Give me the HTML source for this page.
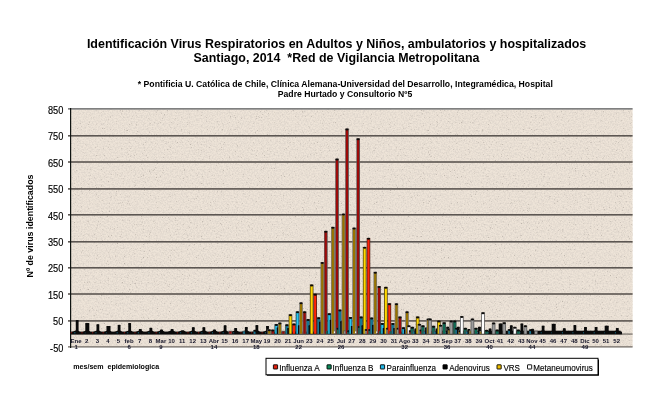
<!DOCTYPE html>
<html><head><meta charset="utf-8"><title>Identificación Virus Respiratorios</title>
<style>
html,body{margin:0;padding:0;background:#fff;}
body{width:654px;height:401px;overflow:hidden;}
svg{display:block;}
text{font-family:"Liberation Sans",sans-serif;}
.t1{font-weight:bold;font-size:12.4px;fill:#000;}
.t2{font-weight:bold;font-size:8.65px;fill:#000;}
.yl{font-size:10.1px;fill:#000;text-anchor:end;stroke:#000;stroke-width:0.15px;}
.xl{font-size:6.0px;font-weight:bold;fill:#141428;text-anchor:middle;}
.lg{font-size:9.8px;fill:#000;stroke:#000;stroke-width:0.15px;}
.ax{font-weight:bold;font-size:7.4px;fill:#000;}
</style></head><body>
<svg width="654" height="401" viewBox="0 0 654 401">
<defs>
<filter id="nz" x="0" y="0" width="100%" height="100%">
<feTurbulence type="fractalNoise" baseFrequency="0.65" numOctaves="2" seed="7" result="n"/>
<feColorMatrix type="matrix" values="0 0 0 0 0.70  0 0 0 0 0.64  0 0 0 0 0.58  2.0 0 0 0 -0.72"/>
<feComposite operator="in" in2="SourceGraphic"/>
</filter>
<filter id="sp" x="0" y="0" width="100%" height="100%">
<feTurbulence type="fractalNoise" baseFrequency="0.85" numOctaves="2" seed="3" result="n"/>
<feColorMatrix type="matrix" values="0 0 0 0 0.5  0 0 0 0 0.45  0 0 0 0 0.4  4.5 0 0 0 -3.0"/>
<feComposite operator="in" in2="SourceGraphic"/>
</filter>
</defs>
<rect width="654" height="401" fill="#fff"/>

<text class="t1" x="336.6" y="48.3" text-anchor="middle" textLength="499.4" lengthAdjust="spacingAndGlyphs">Identificación Virus Respiratorios en Adultos y Niños, ambulatorios y hospitalizados</text>
<text class="t1" x="336.5" y="61.8" text-anchor="middle" textLength="286" lengthAdjust="spacingAndGlyphs" xml:space="preserve">Santiago, 2014  *Red de Vigilancia Metropolitana</text>
<text class="t2" x="345.3" y="86.5" text-anchor="middle" textLength="415" lengthAdjust="spacingAndGlyphs">* Pontificia U. Católica de Chile, Clínica Alemana-Universidad del Desarrollo, Integramédica, Hospital</text>
<text class="t2" x="345" y="96.5" text-anchor="middle" textLength="134.5" lengthAdjust="spacingAndGlyphs">Padre Hurtado y Consultorio Nº5</text>
<rect x="71" y="109.5" width="561.6" height="237.5" fill="#eee4d8"/>
<rect x="71" y="109.5" width="561.6" height="237.5" fill="#eee4d8" filter="url(#nz)"/>
<rect x="71" y="109.5" width="561.6" height="237.5" fill="#eee4d8" filter="url(#sp)"/>
<rect x="68" y="108.0" width="564.6" height="1.7" fill="#808080"/>
<text class="yl" x="63.3" y="114" textLength="15.4" lengthAdjust="spacingAndGlyphs">850</text>
<rect x="68" y="135.0" width="564.6" height="1.6" fill="#5c5652"/>
<text class="yl" x="63.3" y="140" textLength="15.4" lengthAdjust="spacingAndGlyphs">750</text>
<rect x="68" y="161.2" width="564.6" height="1.6" fill="#5c5652"/>
<text class="yl" x="63.3" y="167" textLength="15.4" lengthAdjust="spacingAndGlyphs">650</text>
<rect x="68" y="188.1" width="564.6" height="1.6" fill="#5c5652"/>
<text class="yl" x="63.3" y="193" textLength="15.4" lengthAdjust="spacingAndGlyphs">550</text>
<rect x="68" y="214.0" width="564.6" height="1.6" fill="#5c5652"/>
<text class="yl" x="63.3" y="220" textLength="15.4" lengthAdjust="spacingAndGlyphs">450</text>
<rect x="68" y="241.0" width="564.6" height="1.6" fill="#5c5652"/>
<text class="yl" x="63.3" y="246" textLength="15.4" lengthAdjust="spacingAndGlyphs">350</text>
<rect x="68" y="267.0" width="564.6" height="1.6" fill="#5c5652"/>
<text class="yl" x="63.3" y="272" textLength="15.4" lengthAdjust="spacingAndGlyphs">250</text>
<rect x="68" y="293.2" width="564.6" height="1.6" fill="#5c5652"/>
<text class="yl" x="63.3" y="299" textLength="15.4" lengthAdjust="spacingAndGlyphs">150</text>
<rect x="68" y="320.1" width="564.6" height="1.6" fill="#5c5652"/>
<text class="yl" x="63.3" y="325" textLength="10.2" lengthAdjust="spacingAndGlyphs">50</text>
<rect x="68" y="346.1" width="564.6" height="1.5" fill="#847e78"/>
<text class="yl" x="63.3" y="352" textLength="13.2" lengthAdjust="spacingAndGlyphs">-50</text>
<rect x="70" y="108" width="1.2" height="240" fill="#101412"/>
<rect x="71" y="333.6" width="561.6" height="0.9" fill="#4a4642"/>
<rect x="71" y="331.6" width="551" height="2.8" fill="#0a0a0a"/>
<rect x="409.7" y="330.7" width="211.0" height="3" fill="#0a0a0a"/>
<polygon points="71.9,331.9 75.5,330.4 77.9,330.4 80.1,331.9" fill="#0a0a0a"/>
<polygon points="82.5,331.9 86.1,330.4 88.5,330.4 90.7,331.9" fill="#0a0a0a"/>
<polygon points="93.1,331.9 96.7,330.4 99.1,330.4 101.3,331.9" fill="#0a0a0a"/>
<polygon points="103.7,331.9 107.3,330.4 109.7,330.4 111.9,331.9" fill="#0a0a0a"/>
<polygon points="114.3,331.9 117.9,330.4 120.3,330.4 122.5,331.9" fill="#0a0a0a"/>
<polygon points="124.9,331.9 128.5,330.4 130.9,330.4 133.1,331.9" fill="#0a0a0a"/>
<polygon points="135.5,331.9 139.1,330.4 141.5,330.4 143.7,331.9" fill="#0a0a0a"/>
<polygon points="146.1,331.9 149.7,330.4 152.1,330.4 154.3,331.9" fill="#0a0a0a"/>
<polygon points="156.7,331.9 160.3,330.4 162.7,330.4 164.9,331.9" fill="#0a0a0a"/>
<polygon points="167.3,331.9 170.9,330.4 173.3,330.4 175.5,331.9" fill="#0a0a0a"/>
<polygon points="177.9,331.9 181.5,330.4 183.9,330.4 186.1,331.9" fill="#0a0a0a"/>
<polygon points="188.5,331.9 192.1,330.4 194.5,330.4 196.7,331.9" fill="#0a0a0a"/>
<polygon points="199.1,331.9 202.7,330.4 205.1,330.4 207.3,331.9" fill="#0a0a0a"/>
<polygon points="209.7,331.9 213.3,330.4 215.7,330.4 217.9,331.9" fill="#0a0a0a"/>
<polygon points="220.3,331.9 223.9,330.4 226.3,330.4 228.5,331.9" fill="#0a0a0a"/>
<polygon points="230.9,331.9 234.5,330.4 236.9,330.4 239.1,331.9" fill="#0a0a0a"/>
<polygon points="241.5,331.9 245.1,330.4 247.5,330.4 249.7,331.9" fill="#0a0a0a"/>
<polygon points="252.1,331.9 255.7,330.4 258.1,330.4 260.3,331.9" fill="#0a0a0a"/>
<polygon points="262.7,331.9 266.3,330.4 268.7,330.4 270.9,331.9" fill="#0a0a0a"/>
<polygon points="527.7,331.9 531.3,330.4 533.7,330.4 535.9,331.9" fill="#0a0a0a"/>
<polygon points="538.3,331.9 541.9,330.4 544.3,330.4 546.5,331.9" fill="#0a0a0a"/>
<polygon points="548.9,331.9 552.5,330.4 554.9,330.4 557.1,331.9" fill="#0a0a0a"/>
<polygon points="559.5,331.9 563.1,330.4 565.5,330.4 567.7,331.9" fill="#0a0a0a"/>
<polygon points="570.1,331.9 573.7,330.4 576.1,330.4 578.3,331.9" fill="#0a0a0a"/>
<polygon points="580.7,331.9 584.3,330.4 586.7,330.4 588.9,331.9" fill="#0a0a0a"/>
<polygon points="591.3,331.9 594.9,330.4 597.3,330.4 599.5,331.9" fill="#0a0a0a"/>
<polygon points="601.9,331.9 605.5,330.4 607.9,330.4 610.1,331.9" fill="#0a0a0a"/>
<polygon points="612.5,331.9 616.1,330.4 618.5,330.4 620.7,331.9" fill="#0a0a0a"/>
<rect x="70.78" y="332.3" width="1.2" height="1.0" fill="#c01810" opacity="0.75"/>

<rect x="74.31" y="332.3" width="1.2" height="1.0" fill="#18a0c8" opacity="0.75"/>
<rect x="75.78" y="320.18" width="2.80" height="13.72" fill="#0a0a0a"/><ellipse cx="77.19" cy="321.08" rx="1.20" ry="1.0" fill="#0a0a0a"/>


<rect x="81.38" y="332.3" width="1.2" height="1.0" fill="#c01810" opacity="0.75"/>

<rect x="84.92" y="332.3" width="1.2" height="1.0" fill="#18a0c8" opacity="0.75"/>
<rect x="85.29" y="323.09" width="4.00" height="10.81" fill="#0a0a0a"/><ellipse cx="87.29" cy="323.99" rx="1.80" ry="1.0" fill="#0a0a0a"/>


<rect x="91.98" y="332.3" width="1.2" height="1.0" fill="#c01810" opacity="0.75"/>

<rect x="95.52" y="332.3" width="1.2" height="1.0" fill="#18a0c8" opacity="0.75"/>
<rect x="96.48" y="324.41" width="2.80" height="9.49" fill="#0a0a0a"/><ellipse cx="97.89" cy="325.31" rx="1.20" ry="1.0" fill="#0a0a0a"/>


<rect x="102.58" y="332.3" width="1.2" height="1.0" fill="#c01810" opacity="0.75"/>

<rect x="106.11" y="332.3" width="1.2" height="1.0" fill="#18a0c8" opacity="0.75"/>
<rect x="106.48" y="326.00" width="4.00" height="7.90" fill="#0a0a0a"/><ellipse cx="108.48" cy="326.90" rx="1.80" ry="1.0" fill="#0a0a0a"/>




<rect x="116.71" y="332.3" width="1.2" height="1.0" fill="#18a0c8" opacity="0.75"/>
<rect x="117.68" y="324.94" width="2.80" height="8.96" fill="#0a0a0a"/><ellipse cx="119.08" cy="325.84" rx="1.20" ry="1.0" fill="#0a0a0a"/>


<rect x="123.78" y="332.3" width="1.2" height="1.0" fill="#c01810" opacity="0.75"/>

<rect x="127.32" y="332.3" width="1.2" height="1.0" fill="#18a0c8" opacity="0.75"/>
<rect x="128.28" y="323.09" width="2.80" height="10.81" fill="#0a0a0a"/><ellipse cx="129.69" cy="323.99" rx="1.20" ry="1.0" fill="#0a0a0a"/>


<rect x="134.37" y="332.3" width="1.2" height="1.0" fill="#c01810" opacity="0.75"/>

<rect x="137.91" y="332.3" width="1.2" height="1.0" fill="#18a0c8" opacity="0.75"/>
<rect x="138.88" y="329.17" width="2.80" height="4.73" fill="#0a0a0a"/><ellipse cx="140.28" cy="330.07" rx="1.20" ry="1.0" fill="#0a0a0a"/>




<rect x="148.52" y="332.3" width="1.2" height="1.0" fill="#18a0c8" opacity="0.75"/>
<rect x="149.48" y="327.85" width="2.80" height="6.05" fill="#0a0a0a"/><ellipse cx="150.88" cy="328.75" rx="1.20" ry="1.0" fill="#0a0a0a"/>


<rect x="155.57" y="332.3" width="1.2" height="1.0" fill="#c01810" opacity="0.75"/>

<rect x="159.12" y="332.3" width="1.2" height="1.0" fill="#18a0c8" opacity="0.75"/>
<rect x="160.08" y="329.70" width="2.80" height="4.20" fill="#0a0a0a"/><ellipse cx="161.48" cy="330.60" rx="1.20" ry="1.0" fill="#0a0a0a"/>





<rect x="170.68" y="329.17" width="2.80" height="4.73" fill="#0a0a0a"/><ellipse cx="172.08" cy="330.07" rx="1.20" ry="1.0" fill="#0a0a0a"/>


<rect x="176.78" y="332.3" width="1.2" height="1.0" fill="#c01810" opacity="0.75"/>

<rect x="180.32" y="332.3" width="1.2" height="1.0" fill="#18a0c8" opacity="0.75"/>
<rect x="181.28" y="330.49" width="2.80" height="3.41" fill="#0a0a0a"/>


<rect x="187.37" y="332.3" width="1.2" height="1.0" fill="#c01810" opacity="0.75"/>

<rect x="190.91" y="332.3" width="1.2" height="1.0" fill="#18a0c8" opacity="0.75"/>
<rect x="191.88" y="327.32" width="2.80" height="6.58" fill="#0a0a0a"/><ellipse cx="193.28" cy="328.22" rx="1.20" ry="1.0" fill="#0a0a0a"/>


<rect x="197.97" y="332.3" width="1.2" height="1.0" fill="#c01810" opacity="0.75"/>

<rect x="201.52" y="332.3" width="1.2" height="1.0" fill="#18a0c8" opacity="0.75"/>
<rect x="202.48" y="327.32" width="2.80" height="6.58" fill="#0a0a0a"/><ellipse cx="203.88" cy="328.22" rx="1.20" ry="1.0" fill="#0a0a0a"/>


<rect x="208.57" y="332.3" width="1.2" height="1.0" fill="#c01810" opacity="0.75"/>

<rect x="212.12" y="332.3" width="1.2" height="1.0" fill="#18a0c8" opacity="0.75"/>
<rect x="213.08" y="329.70" width="2.80" height="4.20" fill="#0a0a0a"/><ellipse cx="214.48" cy="330.60" rx="1.20" ry="1.0" fill="#0a0a0a"/>


<rect x="219.17" y="332.3" width="1.2" height="1.0" fill="#c01810" opacity="0.75"/>

<rect x="222.72" y="332.3" width="1.2" height="1.0" fill="#18a0c8" opacity="0.75"/>
<rect x="223.68" y="325.47" width="2.80" height="8.43" fill="#0a0a0a"/><ellipse cx="225.08" cy="326.37" rx="1.20" ry="1.0" fill="#0a0a0a"/>


<rect x="228.57" y="330.76" width="3.60" height="3.14" fill="#5e5454"/><rect x="229.32" y="331.56" width="2.10" height="2.14" fill="#9c0a08"/>

<rect x="233.31" y="332.3" width="1.2" height="1.0" fill="#18a0c8" opacity="0.75"/>
<rect x="234.28" y="328.11" width="2.80" height="5.79" fill="#0a0a0a"/><ellipse cx="235.68" cy="329.01" rx="1.20" ry="1.0" fill="#0a0a0a"/>


<rect x="240.38" y="332.3" width="1.2" height="1.0" fill="#c01810" opacity="0.75"/>

<rect x="242.72" y="330.76" width="3.60" height="3.14" fill="#3c5058"/><rect x="243.47" y="331.56" width="2.10" height="2.14" fill="#147896"/>
<rect x="244.88" y="327.05" width="2.80" height="6.85" fill="#0a0a0a"/><ellipse cx="246.28" cy="327.95" rx="1.20" ry="1.0" fill="#0a0a0a"/>


<rect x="250.97" y="332.3" width="1.2" height="1.0" fill="#c01810" opacity="0.75"/>

<rect x="253.31" y="329.96" width="3.60" height="3.94" fill="#3c5058"/><rect x="254.06" y="330.76" width="2.10" height="2.94" fill="#147896"/><ellipse cx="255.12" cy="330.86" rx="1.60" ry="1.0" fill="#0c0a08"/>
<rect x="255.48" y="325.20" width="2.80" height="8.70" fill="#0a0a0a"/><ellipse cx="256.88" cy="326.10" rx="1.20" ry="1.0" fill="#0a0a0a"/>


<rect x="261.57" y="332.3" width="1.2" height="1.0" fill="#c01810" opacity="0.75"/>

<rect x="265.12" y="332.3" width="1.2" height="1.0" fill="#18a0c8" opacity="0.75"/>
<rect x="266.09" y="326.00" width="2.80" height="7.90" fill="#0a0a0a"/><ellipse cx="267.49" cy="326.90" rx="1.20" ry="1.0" fill="#0a0a0a"/>
<rect x="267.45" y="329.43" width="3.60" height="4.47" fill="#7c7870"/><rect x="268.20" y="330.23" width="2.10" height="3.47" fill="#987400"/><ellipse cx="269.25" cy="330.33" rx="1.60" ry="1.0" fill="#0c0a08"/>

<rect x="270.97" y="329.70" width="3.60" height="4.20" fill="#5e5454"/><rect x="271.72" y="330.50" width="2.10" height="3.20" fill="#9c0a08"/><ellipse cx="272.77" cy="330.60" rx="1.60" ry="1.0" fill="#0c0a08"/>

<rect x="274.51" y="324.15" width="3.60" height="9.75" fill="#103848"/><rect x="275.26" y="324.95" width="2.10" height="8.75" fill="#28c8f4"/><ellipse cx="276.31" cy="325.05" rx="1.60" ry="1.0" fill="#0c0a08"/>
<rect x="276.69" y="327.58" width="2.80" height="6.32" fill="#0a0a0a"/><ellipse cx="278.08" cy="328.48" rx="1.20" ry="1.0" fill="#0a0a0a"/>
<rect x="278.05" y="322.56" width="3.60" height="11.34" fill="#7c7870"/><rect x="278.80" y="323.36" width="2.10" height="10.34" fill="#987400"/><ellipse cx="279.85" cy="323.46" rx="1.60" ry="1.0" fill="#0c0a08"/>

<rect x="281.57" y="330.76" width="3.60" height="3.14" fill="#5e5454"/><rect x="282.32" y="331.56" width="2.10" height="2.14" fill="#9c0a08"/>

<rect x="285.11" y="324.41" width="3.60" height="9.49" fill="#3c5058"/><rect x="285.86" y="325.21" width="2.10" height="8.49" fill="#147896"/><ellipse cx="286.91" cy="325.31" rx="1.60" ry="1.0" fill="#0c0a08"/>
<rect x="287.28" y="328.11" width="2.80" height="5.79" fill="#0a0a0a"/><ellipse cx="288.68" cy="329.01" rx="1.20" ry="1.0" fill="#0a0a0a"/>
<rect x="288.65" y="314.36" width="3.60" height="19.54" fill="#4a3c10"/><rect x="289.40" y="315.16" width="2.10" height="18.54" fill="#ffd800"/><ellipse cx="290.45" cy="315.26" rx="1.60" ry="1.0" fill="#0c0a08"/>

<rect x="292.17" y="323.62" width="3.60" height="10.28" fill="#4a2018"/><rect x="292.92" y="324.42" width="2.10" height="9.28" fill="#ff2408"/><ellipse cx="293.97" cy="324.52" rx="1.60" ry="1.0" fill="#0c0a08"/>

<rect x="295.71" y="311.45" width="3.60" height="22.45" fill="#103848"/><rect x="296.46" y="312.25" width="2.10" height="21.45" fill="#28c8f4"/><ellipse cx="297.51" cy="312.35" rx="1.60" ry="1.0" fill="#0c0a08"/>
<rect x="297.88" y="325.47" width="2.80" height="8.43" fill="#0a0a0a"/><ellipse cx="299.28" cy="326.37" rx="1.20" ry="1.0" fill="#0a0a0a"/>
<rect x="299.25" y="302.47" width="3.60" height="31.43" fill="#7c7870"/><rect x="300.00" y="303.27" width="2.10" height="30.43" fill="#987400"/><ellipse cx="301.05" cy="303.37" rx="1.60" ry="1.0" fill="#0c0a08"/>

<rect x="302.88" y="311.45" width="3.60" height="22.45" fill="#5e5454"/><rect x="303.52" y="312.25" width="2.10" height="21.45" fill="#9c0a08"/><ellipse cx="304.57" cy="312.35" rx="1.60" ry="1.0" fill="#0c0a08"/>

<rect x="306.31" y="319.12" width="3.60" height="14.78" fill="#3c5058"/><rect x="307.06" y="319.92" width="2.10" height="13.78" fill="#147896"/><ellipse cx="308.12" cy="320.02" rx="1.60" ry="1.0" fill="#0c0a08"/>
<rect x="308.49" y="325.47" width="2.80" height="8.43" fill="#0a0a0a"/><ellipse cx="309.88" cy="326.37" rx="1.20" ry="1.0" fill="#0a0a0a"/>
<rect x="309.85" y="284.49" width="3.60" height="49.41" fill="#4a3c10"/><rect x="310.60" y="285.29" width="2.10" height="48.41" fill="#ffd800"/><ellipse cx="311.65" cy="285.39" rx="1.60" ry="1.0" fill="#0c0a08"/>

<rect x="313.38" y="293.74" width="3.60" height="40.16" fill="#4a2018"/><rect x="314.12" y="294.54" width="2.10" height="39.16" fill="#ff2408"/><ellipse cx="315.18" cy="294.64" rx="1.60" ry="1.0" fill="#0c0a08"/>

<rect x="316.92" y="317.27" width="3.60" height="16.63" fill="#3c5058"/><rect x="317.67" y="318.07" width="2.10" height="15.63" fill="#147896"/><ellipse cx="318.72" cy="318.17" rx="1.60" ry="1.0" fill="#0c0a08"/>
<rect x="319.09" y="321.77" width="2.80" height="12.13" fill="#0a0a0a"/><ellipse cx="320.49" cy="322.67" rx="1.20" ry="1.0" fill="#0a0a0a"/>
<rect x="320.45" y="262.01" width="4.65" height="71.89" fill="#7c7870"/><rect x="321.20" y="262.81" width="2.10" height="70.89" fill="#987400"/><ellipse cx="322.25" cy="262.91" rx="1.60" ry="1.0" fill="#0c0a08"/>

<rect x="324.07" y="230.81" width="3.60" height="103.09" fill="#5e5454"/><rect x="324.72" y="231.61" width="2.10" height="102.09" fill="#9c0a08"/><ellipse cx="325.77" cy="231.71" rx="1.60" ry="1.0" fill="#0c0a08"/>
<rect x="325.75" y="330.76" width="3.60" height="3.14" fill="#3c4c48"/><rect x="326.50" y="331.56" width="2.10" height="2.14" fill="#0e6c54"/>
<rect x="327.51" y="313.31" width="3.60" height="20.59" fill="#103848"/><rect x="328.26" y="314.11" width="2.10" height="19.59" fill="#28c8f4"/><ellipse cx="329.31" cy="314.21" rx="1.60" ry="1.0" fill="#0c0a08"/>
<rect x="329.69" y="319.92" width="2.80" height="13.98" fill="#0a0a0a"/><ellipse cx="331.08" cy="320.82" rx="1.20" ry="1.0" fill="#0a0a0a"/>
<rect x="331.05" y="226.85" width="4.65" height="107.05" fill="#7c7870"/><rect x="331.80" y="227.65" width="2.10" height="106.05" fill="#987400"/><ellipse cx="332.85" cy="227.75" rx="1.60" ry="1.0" fill="#0c0a08"/>
<rect x="333.82" y="331.4" width="1.6" height="1.7" fill="#f4f4f4"/>
<rect x="335.28" y="158.63" width="3.60" height="175.27" fill="#5e5454"/><rect x="335.93" y="159.43" width="2.10" height="174.27" fill="#9c0a08"/><ellipse cx="336.98" cy="159.53" rx="1.60" ry="1.0" fill="#0c0a08"/>
<rect x="336.35" y="327.85" width="3.60" height="6.05" fill="#3c4c48"/><rect x="337.10" y="328.65" width="2.10" height="5.05" fill="#0e6c54"/><ellipse cx="338.15" cy="328.75" rx="1.60" ry="1.0" fill="#0c0a08"/>
<rect x="338.12" y="309.60" width="3.60" height="24.30" fill="#3c5058"/><rect x="338.87" y="310.40" width="2.10" height="23.30" fill="#147896"/><ellipse cx="339.92" cy="310.50" rx="1.60" ry="1.0" fill="#0c0a08"/>
<rect x="340.29" y="321.24" width="2.80" height="12.66" fill="#0a0a0a"/><ellipse cx="341.69" cy="322.14" rx="1.20" ry="1.0" fill="#0a0a0a"/>
<rect x="341.65" y="213.63" width="4.65" height="120.27" fill="#7c7870"/><rect x="342.40" y="214.43" width="2.10" height="119.27" fill="#987400"/><ellipse cx="343.45" cy="214.53" rx="1.60" ry="1.0" fill="#0c0a08"/>
<rect x="343.43" y="330.49" width="3.60" height="3.41" fill="#555"/><rect x="344.18" y="331.29" width="2.10" height="2.41" fill="#9c9c9c"/>
<rect x="345.27" y="128.49" width="3.60" height="205.41" fill="#5e5454"/><rect x="345.92" y="129.29" width="2.10" height="204.41" fill="#9c0a08"/><ellipse cx="346.97" cy="129.39" rx="1.60" ry="1.0" fill="#0c0a08"/>
<rect x="346.94" y="330.23" width="3.60" height="3.67" fill="#3c4c48"/><rect x="347.69" y="331.03" width="2.10" height="2.67" fill="#0e6c54"/><ellipse cx="348.75" cy="331.13" rx="1.60" ry="1.0" fill="#0c0a08"/>
<rect x="348.71" y="317.01" width="3.60" height="16.89" fill="#103848"/><rect x="349.46" y="317.81" width="2.10" height="15.89" fill="#28c8f4"/><ellipse cx="350.51" cy="317.91" rx="1.60" ry="1.0" fill="#0c0a08"/>
<rect x="350.88" y="326.00" width="2.80" height="7.90" fill="#0a0a0a"/><ellipse cx="352.28" cy="326.90" rx="1.20" ry="1.0" fill="#0a0a0a"/>
<rect x="352.25" y="227.64" width="4.65" height="106.26" fill="#7c7870"/><rect x="353.00" y="228.44" width="2.10" height="105.26" fill="#987400"/><ellipse cx="354.05" cy="228.54" rx="1.60" ry="1.0" fill="#0c0a08"/>
<rect x="355.02" y="331.4" width="1.6" height="1.7" fill="#f4f4f4"/>
<rect x="356.38" y="138.27" width="3.60" height="195.63" fill="#5e5454"/><rect x="357.02" y="139.07" width="2.10" height="194.63" fill="#9c0a08"/><ellipse cx="358.07" cy="139.17" rx="1.60" ry="1.0" fill="#0c0a08"/>
<rect x="357.55" y="326.00" width="3.60" height="7.90" fill="#3c4c48"/><rect x="358.30" y="326.80" width="2.10" height="6.90" fill="#0e6c54"/><ellipse cx="359.35" cy="326.90" rx="1.60" ry="1.0" fill="#0c0a08"/>
<rect x="359.31" y="316.48" width="3.60" height="17.42" fill="#3c5058"/><rect x="360.06" y="317.28" width="2.10" height="16.42" fill="#147896"/><ellipse cx="361.12" cy="317.38" rx="1.60" ry="1.0" fill="#0c0a08"/>
<rect x="361.49" y="325.47" width="2.80" height="8.43" fill="#0a0a0a"/><ellipse cx="362.88" cy="326.37" rx="1.20" ry="1.0" fill="#0a0a0a"/>
<rect x="362.85" y="246.94" width="3.60" height="86.96" fill="#4a3c10"/><rect x="363.60" y="247.74" width="2.10" height="85.96" fill="#ffd800"/><ellipse cx="364.65" cy="247.84" rx="1.60" ry="1.0" fill="#0c0a08"/>
<rect x="364.62" y="329.17" width="3.60" height="4.73" fill="#555"/><rect x="365.38" y="329.97" width="2.10" height="3.73" fill="#9c9c9c"/><ellipse cx="366.43" cy="330.07" rx="1.60" ry="1.0" fill="#0c0a08"/>
<rect x="366.67" y="237.95" width="3.60" height="95.95" fill="#4a2018"/><rect x="367.42" y="238.75" width="2.10" height="94.95" fill="#ff2408"/><ellipse cx="368.47" cy="238.85" rx="1.60" ry="1.0" fill="#0c0a08"/>
<rect x="368.14" y="329.17" width="3.60" height="4.73" fill="#3c4c48"/><rect x="368.89" y="329.97" width="2.10" height="3.73" fill="#0e6c54"/><ellipse cx="369.94" cy="330.07" rx="1.60" ry="1.0" fill="#0c0a08"/>
<rect x="369.91" y="317.54" width="3.60" height="16.36" fill="#3c5058"/><rect x="370.66" y="318.34" width="2.10" height="15.36" fill="#147896"/><ellipse cx="371.71" cy="318.44" rx="1.60" ry="1.0" fill="#0c0a08"/>
<rect x="372.08" y="324.94" width="2.80" height="8.96" fill="#0a0a0a"/><ellipse cx="373.48" cy="325.84" rx="1.20" ry="1.0" fill="#0a0a0a"/>
<rect x="373.45" y="271.79" width="3.60" height="62.11" fill="#7c7870"/><rect x="374.20" y="272.59" width="2.10" height="61.11" fill="#987400"/><ellipse cx="375.25" cy="272.69" rx="1.60" ry="1.0" fill="#0c0a08"/>
<rect x="376.22" y="331.4" width="1.6" height="1.7" fill="#f4f4f4"/>
<rect x="377.38" y="286.07" width="3.60" height="47.83" fill="#5e5454"/><rect x="378.02" y="286.87" width="2.10" height="46.83" fill="#9c0a08"/><ellipse cx="379.07" cy="286.97" rx="1.60" ry="1.0" fill="#0c0a08"/>
<rect x="378.75" y="330.76" width="3.60" height="3.14" fill="#3c4c48"/><rect x="379.50" y="331.56" width="2.10" height="2.14" fill="#0e6c54"/>
<rect x="380.51" y="323.09" width="3.60" height="10.81" fill="#103848"/><rect x="381.26" y="323.89" width="2.10" height="9.81" fill="#28c8f4"/><ellipse cx="382.31" cy="323.99" rx="1.60" ry="1.0" fill="#0c0a08"/>
<rect x="382.69" y="328.11" width="2.80" height="5.79" fill="#0a0a0a"/><ellipse cx="384.08" cy="329.01" rx="1.20" ry="1.0" fill="#0a0a0a"/>
<rect x="384.05" y="286.87" width="3.60" height="47.03" fill="#4a3c10"/><rect x="384.80" y="287.67" width="2.10" height="46.03" fill="#ffd800"/><ellipse cx="385.85" cy="287.77" rx="1.60" ry="1.0" fill="#0c0a08"/>
<rect x="385.82" y="327.85" width="3.60" height="6.05" fill="#555"/><rect x="386.57" y="328.65" width="2.10" height="5.05" fill="#9c9c9c"/><ellipse cx="387.62" cy="328.75" rx="1.60" ry="1.0" fill="#0c0a08"/>
<rect x="387.57" y="303.26" width="3.60" height="30.64" fill="#4a2018"/><rect x="388.32" y="304.06" width="2.10" height="29.64" fill="#ff2408"/><ellipse cx="389.38" cy="304.16" rx="1.60" ry="1.0" fill="#0c0a08"/>
<rect x="389.35" y="331.02" width="3.60" height="2.88" fill="#3c4c48"/><rect x="390.10" y="331.82" width="2.10" height="1.88" fill="#0e6c54"/>
<rect x="391.12" y="323.09" width="3.60" height="10.81" fill="#3c5058"/><rect x="391.87" y="323.89" width="2.10" height="9.81" fill="#147896"/><ellipse cx="392.92" cy="323.99" rx="1.60" ry="1.0" fill="#0c0a08"/>
<rect x="393.29" y="328.11" width="2.80" height="5.79" fill="#0a0a0a"/><ellipse cx="394.69" cy="329.01" rx="1.20" ry="1.0" fill="#0a0a0a"/>
<rect x="394.65" y="303.26" width="3.60" height="30.64" fill="#7c7870"/><rect x="395.40" y="304.06" width="2.10" height="29.64" fill="#987400"/><ellipse cx="396.45" cy="304.16" rx="1.60" ry="1.0" fill="#0c0a08"/>
<rect x="396.43" y="327.85" width="3.60" height="6.05" fill="#555"/><rect x="397.18" y="328.65" width="2.10" height="5.05" fill="#9c9c9c"/><ellipse cx="398.23" cy="328.75" rx="1.60" ry="1.0" fill="#0c0a08"/>
<rect x="398.17" y="316.48" width="3.60" height="17.42" fill="#5e5454"/><rect x="398.92" y="317.28" width="2.10" height="16.42" fill="#9c0a08"/><ellipse cx="399.97" cy="317.38" rx="1.60" ry="1.0" fill="#0c0a08"/>

<rect x="401.71" y="327.32" width="3.60" height="6.58" fill="#103848"/><rect x="402.46" y="328.12" width="2.10" height="5.58" fill="#28c8f4"/><ellipse cx="403.51" cy="328.22" rx="1.60" ry="1.0" fill="#0c0a08"/>
<rect x="403.88" y="329.43" width="2.80" height="4.47" fill="#0a0a0a"/><ellipse cx="405.28" cy="330.33" rx="1.20" ry="1.0" fill="#0a0a0a"/>
<rect x="405.25" y="311.45" width="3.60" height="22.45" fill="#7c7870"/><rect x="406.00" y="312.25" width="2.10" height="21.45" fill="#987400"/><ellipse cx="407.05" cy="312.35" rx="1.60" ry="1.0" fill="#0c0a08"/>
<rect x="407.02" y="325.47" width="3.60" height="8.43" fill="#555"/><rect x="407.77" y="326.27" width="2.10" height="7.43" fill="#ffffff"/><ellipse cx="408.82" cy="326.37" rx="1.60" ry="1.0" fill="#0c0a08"/>
<rect x="408.77" y="330.23" width="3.60" height="3.67" fill="#5e5454"/><rect x="409.52" y="331.03" width="2.10" height="2.67" fill="#9c0a08"/><ellipse cx="410.57" cy="331.13" rx="1.60" ry="1.0" fill="#0c0a08"/>
<rect x="410.55" y="326.79" width="3.60" height="7.11" fill="#3c4c48"/><rect x="411.30" y="327.59" width="2.10" height="6.11" fill="#0e6c54"/><ellipse cx="412.35" cy="327.69" rx="1.60" ry="1.0" fill="#0c0a08"/>
<rect x="412.31" y="330.76" width="3.60" height="3.14" fill="#3c5058"/><rect x="413.06" y="331.56" width="2.10" height="2.14" fill="#147896"/>
<rect x="414.49" y="328.64" width="2.80" height="5.26" fill="#0a0a0a"/><ellipse cx="415.88" cy="329.54" rx="1.20" ry="1.0" fill="#0a0a0a"/>
<rect x="415.85" y="316.48" width="3.60" height="17.42" fill="#4a3c10"/><rect x="416.60" y="317.28" width="2.10" height="16.42" fill="#ffd800"/><ellipse cx="417.65" cy="317.38" rx="1.60" ry="1.0" fill="#0c0a08"/>
<rect x="417.62" y="323.88" width="3.60" height="10.02" fill="#555"/><rect x="418.38" y="324.68" width="2.10" height="9.02" fill="#9c9c9c"/><ellipse cx="419.43" cy="324.78" rx="1.60" ry="1.0" fill="#0c0a08"/>
<rect x="419.37" y="329.70" width="3.60" height="4.20" fill="#5e5454"/><rect x="420.12" y="330.50" width="2.10" height="3.20" fill="#9c0a08"/><ellipse cx="421.17" cy="330.60" rx="1.60" ry="1.0" fill="#0c0a08"/>
<rect x="421.14" y="325.47" width="3.60" height="8.43" fill="#3c4c48"/><rect x="421.89" y="326.27" width="2.10" height="7.43" fill="#0e6c54"/><ellipse cx="422.94" cy="326.37" rx="1.60" ry="1.0" fill="#0c0a08"/>
<rect x="422.91" y="331.02" width="3.60" height="2.88" fill="#3c5058"/><rect x="423.66" y="331.82" width="2.10" height="1.88" fill="#147896"/>
<rect x="425.08" y="327.58" width="2.80" height="6.32" fill="#0a0a0a"/><ellipse cx="426.48" cy="328.48" rx="1.20" ry="1.0" fill="#0a0a0a"/>
<rect x="426.45" y="318.59" width="3.60" height="15.31" fill="#7c7870"/><rect x="427.20" y="319.39" width="2.10" height="14.31" fill="#987400"/><ellipse cx="428.25" cy="319.49" rx="1.60" ry="1.0" fill="#0c0a08"/>
<rect x="428.22" y="318.59" width="3.60" height="15.31" fill="#555"/><rect x="428.97" y="319.39" width="2.10" height="14.31" fill="#9c9c9c"/><ellipse cx="430.02" cy="319.49" rx="1.60" ry="1.0" fill="#0c0a08"/>
<rect x="431.17" y="332.3" width="1.2" height="1.0" fill="#c01810" opacity="0.75"/>
<rect x="431.75" y="325.73" width="3.60" height="8.17" fill="#3c4c48"/><rect x="432.50" y="326.53" width="2.10" height="7.17" fill="#0e6c54"/><ellipse cx="433.55" cy="326.63" rx="1.60" ry="1.0" fill="#0c0a08"/>
<rect x="433.51" y="331.02" width="3.60" height="2.88" fill="#3c5058"/><rect x="434.26" y="331.82" width="2.10" height="1.88" fill="#147896"/>
<rect x="435.69" y="328.64" width="2.80" height="5.26" fill="#0a0a0a"/><ellipse cx="437.08" cy="329.54" rx="1.20" ry="1.0" fill="#0a0a0a"/>
<rect x="437.05" y="320.71" width="3.60" height="13.19" fill="#4a3c10"/><rect x="437.80" y="321.51" width="2.10" height="12.19" fill="#ffd800"/><ellipse cx="438.85" cy="321.61" rx="1.60" ry="1.0" fill="#0c0a08"/>
<rect x="438.82" y="324.94" width="3.60" height="8.96" fill="#555"/><rect x="439.57" y="325.74" width="2.10" height="7.96" fill="#9c9c9c"/><ellipse cx="440.62" cy="325.84" rx="1.60" ry="1.0" fill="#0c0a08"/>
<rect x="441.77" y="332.3" width="1.2" height="1.0" fill="#c01810" opacity="0.75"/>
<rect x="442.35" y="322.30" width="3.60" height="11.60" fill="#3c4c48"/><rect x="443.10" y="323.10" width="2.10" height="10.60" fill="#0e6c54"/><ellipse cx="444.15" cy="323.20" rx="1.60" ry="1.0" fill="#0c0a08"/>
<rect x="445.31" y="332.3" width="1.2" height="1.0" fill="#18a0c8" opacity="0.75"/>
<rect x="446.29" y="326.79" width="2.80" height="7.11" fill="#0a0a0a"/><ellipse cx="447.69" cy="327.69" rx="1.20" ry="1.0" fill="#0a0a0a"/>
<rect x="447.65" y="328.64" width="3.60" height="5.26" fill="#7c7870"/><rect x="448.40" y="329.44" width="2.10" height="4.26" fill="#987400"/><ellipse cx="449.45" cy="329.54" rx="1.60" ry="1.0" fill="#0c0a08"/>
<rect x="449.43" y="320.71" width="3.60" height="13.19" fill="#555"/><rect x="450.18" y="321.51" width="2.10" height="12.19" fill="#9c9c9c"/><ellipse cx="451.23" cy="321.61" rx="1.60" ry="1.0" fill="#0c0a08"/>

<rect x="452.94" y="320.71" width="3.60" height="13.19" fill="#3c4c48"/><rect x="453.69" y="321.51" width="2.10" height="12.19" fill="#0e6c54"/><ellipse cx="454.75" cy="321.61" rx="1.60" ry="1.0" fill="#0c0a08"/>
<rect x="454.71" y="327.85" width="3.60" height="6.05" fill="#3c5058"/><rect x="455.46" y="328.65" width="2.10" height="5.05" fill="#147896"/><ellipse cx="456.51" cy="328.75" rx="1.60" ry="1.0" fill="#0c0a08"/>
<rect x="456.88" y="326.79" width="2.80" height="7.11" fill="#0a0a0a"/><ellipse cx="458.28" cy="327.69" rx="1.20" ry="1.0" fill="#0a0a0a"/>
<rect x="458.25" y="330.23" width="3.60" height="3.67" fill="#7c7870"/><rect x="459.00" y="331.03" width="2.10" height="2.67" fill="#987400"/><ellipse cx="460.05" cy="331.13" rx="1.60" ry="1.0" fill="#0c0a08"/>
<rect x="460.02" y="316.21" width="3.60" height="17.69" fill="#555"/><rect x="460.77" y="317.01" width="2.10" height="16.69" fill="#ffffff"/><ellipse cx="461.82" cy="317.11" rx="1.60" ry="1.0" fill="#0c0a08"/>

<rect x="463.55" y="327.85" width="3.60" height="6.05" fill="#3c4c48"/><rect x="464.30" y="328.65" width="2.10" height="5.05" fill="#0e6c54"/><ellipse cx="465.35" cy="328.75" rx="1.60" ry="1.0" fill="#0c0a08"/>
<rect x="465.31" y="331.02" width="3.60" height="2.88" fill="#3c5058"/><rect x="466.06" y="331.82" width="2.10" height="1.88" fill="#147896"/>
<rect x="467.49" y="329.17" width="2.80" height="4.73" fill="#0a0a0a"/><ellipse cx="468.88" cy="330.07" rx="1.20" ry="1.0" fill="#0a0a0a"/>
<rect x="468.85" y="330.49" width="3.60" height="3.41" fill="#7c7870"/><rect x="469.60" y="331.29" width="2.10" height="2.41" fill="#987400"/>
<rect x="470.62" y="318.59" width="3.60" height="15.31" fill="#555"/><rect x="471.38" y="319.39" width="2.10" height="14.31" fill="#9c9c9c"/><ellipse cx="472.43" cy="319.49" rx="1.60" ry="1.0" fill="#0c0a08"/>

<rect x="474.14" y="327.85" width="3.60" height="6.05" fill="#3c4c48"/><rect x="474.89" y="328.65" width="2.10" height="5.05" fill="#0e6c54"/><ellipse cx="475.94" cy="328.75" rx="1.60" ry="1.0" fill="#0c0a08"/>
<rect x="477.11" y="332.3" width="1.2" height="1.0" fill="#18a0c8" opacity="0.75"/>
<rect x="478.08" y="326.79" width="2.80" height="7.11" fill="#0a0a0a"/><ellipse cx="479.48" cy="327.69" rx="1.20" ry="1.0" fill="#0a0a0a"/>
<rect x="479.45" y="331.02" width="3.60" height="2.88" fill="#7c7870"/><rect x="480.20" y="331.82" width="2.10" height="1.88" fill="#987400"/>
<rect x="481.22" y="312.25" width="3.60" height="21.65" fill="#555"/><rect x="481.97" y="313.05" width="2.10" height="20.65" fill="#ffffff"/><ellipse cx="483.02" cy="313.15" rx="1.60" ry="1.0" fill="#0c0a08"/>

<rect x="484.75" y="329.96" width="3.60" height="3.94" fill="#3c4c48"/><rect x="485.50" y="330.76" width="2.10" height="2.94" fill="#0e6c54"/><ellipse cx="486.55" cy="330.86" rx="1.60" ry="1.0" fill="#0c0a08"/>
<rect x="487.71" y="332.3" width="1.2" height="1.0" fill="#18a0c8" opacity="0.75"/>
<rect x="488.69" y="328.64" width="2.80" height="5.26" fill="#0a0a0a"/><ellipse cx="490.08" cy="329.54" rx="1.20" ry="1.0" fill="#0a0a0a"/>

<rect x="491.82" y="322.56" width="3.60" height="11.34" fill="#555"/><rect x="492.57" y="323.36" width="2.10" height="10.34" fill="#9c9c9c"/><ellipse cx="493.62" cy="323.46" rx="1.60" ry="1.0" fill="#0c0a08"/>

<rect x="495.35" y="329.70" width="3.60" height="4.20" fill="#3c4c48"/><rect x="496.10" y="330.50" width="2.10" height="3.20" fill="#0e6c54"/><ellipse cx="497.15" cy="330.60" rx="1.60" ry="1.0" fill="#0c0a08"/>
<rect x="498.31" y="332.3" width="1.2" height="1.0" fill="#18a0c8" opacity="0.75"/>
<rect x="498.69" y="323.62" width="4.00" height="10.28" fill="#0a0a0a"/><ellipse cx="500.69" cy="324.52" rx="1.80" ry="1.0" fill="#0a0a0a"/>

<rect x="502.43" y="322.30" width="3.60" height="11.60" fill="#555"/><rect x="503.18" y="323.10" width="2.10" height="10.60" fill="#9c9c9c"/><ellipse cx="504.23" cy="323.20" rx="1.60" ry="1.0" fill="#0c0a08"/>


<rect x="507.71" y="329.17" width="3.60" height="4.73" fill="#3c5058"/><rect x="508.46" y="329.97" width="2.10" height="3.73" fill="#147896"/><ellipse cx="509.51" cy="330.07" rx="1.60" ry="1.0" fill="#0c0a08"/>
<rect x="509.88" y="325.47" width="2.80" height="8.43" fill="#0a0a0a"/><ellipse cx="511.28" cy="326.37" rx="1.20" ry="1.0" fill="#0a0a0a"/>

<rect x="513.02" y="326.79" width="3.60" height="7.11" fill="#555"/><rect x="513.77" y="327.59" width="2.10" height="6.11" fill="#ffffff"/><ellipse cx="514.82" cy="327.69" rx="1.60" ry="1.0" fill="#0c0a08"/>

<rect x="516.55" y="329.70" width="3.60" height="4.20" fill="#3c4c48"/><rect x="517.30" y="330.50" width="2.10" height="3.20" fill="#0e6c54"/><ellipse cx="518.35" cy="330.60" rx="1.60" ry="1.0" fill="#0c0a08"/>
<rect x="519.51" y="332.3" width="1.2" height="1.0" fill="#18a0c8" opacity="0.75"/>
<rect x="520.49" y="323.62" width="2.80" height="10.28" fill="#0a0a0a"/><ellipse cx="521.88" cy="324.52" rx="1.20" ry="1.0" fill="#0a0a0a"/>

<rect x="523.62" y="325.47" width="3.60" height="8.43" fill="#555"/><rect x="524.38" y="326.27" width="2.10" height="7.43" fill="#9c9c9c"/><ellipse cx="525.42" cy="326.37" rx="1.60" ry="1.0" fill="#0c0a08"/>


<rect x="528.91" y="329.43" width="3.60" height="4.47" fill="#3c5058"/><rect x="529.66" y="330.23" width="2.10" height="3.47" fill="#147896"/><ellipse cx="530.71" cy="330.33" rx="1.60" ry="1.0" fill="#0c0a08"/>
<rect x="531.08" y="328.91" width="2.80" height="4.99" fill="#0a0a0a"/><ellipse cx="532.48" cy="329.81" rx="1.20" ry="1.0" fill="#0a0a0a"/>

<rect x="534.22" y="330.76" width="3.60" height="3.14" fill="#555"/><rect x="534.97" y="331.56" width="2.10" height="2.14" fill="#9c9c9c"/>


<rect x="540.72" y="332.3" width="1.2" height="1.0" fill="#18a0c8" opacity="0.75"/>
<rect x="541.69" y="325.73" width="2.80" height="8.17" fill="#0a0a0a"/><ellipse cx="543.09" cy="326.63" rx="1.20" ry="1.0" fill="#0a0a0a"/>




<rect x="551.31" y="332.3" width="1.2" height="1.0" fill="#18a0c8" opacity="0.75"/>
<rect x="551.68" y="323.88" width="4.00" height="10.02" fill="#0a0a0a"/><ellipse cx="553.68" cy="324.78" rx="1.80" ry="1.0" fill="#0a0a0a"/>




<rect x="561.91" y="332.3" width="1.2" height="1.0" fill="#18a0c8" opacity="0.75"/>
<rect x="562.88" y="328.38" width="2.80" height="5.52" fill="#0a0a0a"/><ellipse cx="564.28" cy="329.28" rx="1.20" ry="1.0" fill="#0a0a0a"/>




<rect x="572.51" y="332.3" width="1.2" height="1.0" fill="#18a0c8" opacity="0.75"/>
<rect x="573.49" y="325.20" width="2.80" height="8.70" fill="#0a0a0a"/><ellipse cx="574.88" cy="326.10" rx="1.20" ry="1.0" fill="#0a0a0a"/>




<rect x="583.12" y="332.3" width="1.2" height="1.0" fill="#18a0c8" opacity="0.75"/>
<rect x="584.09" y="327.05" width="2.80" height="6.85" fill="#0a0a0a"/><ellipse cx="585.49" cy="327.95" rx="1.20" ry="1.0" fill="#0a0a0a"/>




<rect x="593.71" y="332.3" width="1.2" height="1.0" fill="#18a0c8" opacity="0.75"/>
<rect x="594.68" y="327.05" width="2.80" height="6.85" fill="#0a0a0a"/><ellipse cx="596.08" cy="327.95" rx="1.20" ry="1.0" fill="#0a0a0a"/>




<rect x="604.31" y="332.3" width="1.2" height="1.0" fill="#18a0c8" opacity="0.75"/>
<rect x="604.68" y="325.73" width="4.00" height="8.17" fill="#0a0a0a"/><ellipse cx="606.68" cy="326.63" rx="1.80" ry="1.0" fill="#0a0a0a"/>




<rect x="614.91" y="332.3" width="1.2" height="1.0" fill="#18a0c8" opacity="0.75"/>
<rect x="615.88" y="328.11" width="2.80" height="5.79" fill="#0a0a0a"/><ellipse cx="617.28" cy="329.01" rx="1.20" ry="1.0" fill="#0a0a0a"/>


<text class="xl" x="76.1" y="343.4">Ene</text>
<text class="xl" x="76.1" y="349.3">1</text>
<text class="xl" x="86.7" y="343.4">2</text>
<text class="xl" x="97.3" y="343.4">3</text>
<text class="xl" x="107.9" y="343.4">4</text>
<text class="xl" x="118.5" y="343.4">5</text>
<text class="xl" x="129.1" y="343.4">feb</text>
<text class="xl" x="129.1" y="349.3">6</text>
<text class="xl" x="139.7" y="343.4">7</text>
<text class="xl" x="150.3" y="343.4">8</text>
<text class="xl" x="160.9" y="343.4">Mar</text>
<text class="xl" x="160.9" y="349.3">9</text>
<text class="xl" x="171.5" y="343.4">10</text>
<text class="xl" x="182.1" y="343.4">11</text>
<text class="xl" x="192.7" y="343.4">12</text>
<text class="xl" x="203.3" y="343.4">13</text>
<text class="xl" x="213.9" y="343.4">Abr</text>
<text class="xl" x="213.9" y="349.3">14</text>
<text class="xl" x="224.5" y="343.4">15</text>
<text class="xl" x="235.1" y="343.4">16</text>
<text class="xl" x="245.7" y="343.4">17</text>
<text class="xl" x="256.3" y="343.4">May</text>
<text class="xl" x="256.3" y="349.3">18</text>
<text class="xl" x="266.9" y="343.4">19</text>
<text class="xl" x="277.5" y="343.4">20</text>
<text class="xl" x="288.1" y="343.4">21</text>
<text class="xl" x="298.7" y="343.4">Jun</text>
<text class="xl" x="298.7" y="349.3">22</text>
<text class="xl" x="309.3" y="343.4">23</text>
<text class="xl" x="319.9" y="343.4">24</text>
<text class="xl" x="330.5" y="343.4">25</text>
<text class="xl" x="341.1" y="343.4">Jul</text>
<text class="xl" x="341.1" y="349.3">26</text>
<text class="xl" x="351.7" y="343.4">27</text>
<text class="xl" x="362.3" y="343.4">28</text>
<text class="xl" x="372.9" y="343.4">29</text>
<text class="xl" x="383.5" y="343.4">30</text>
<text class="xl" x="394.1" y="343.4">31</text>
<text class="xl" x="404.7" y="343.4">Ago</text>
<text class="xl" x="404.7" y="349.3">32</text>
<text class="xl" x="415.3" y="343.4">33</text>
<text class="xl" x="425.9" y="343.4">34</text>
<text class="xl" x="436.5" y="343.4">35</text>
<text class="xl" x="447.1" y="343.4">Sep</text>
<text class="xl" x="447.1" y="349.3">36</text>
<text class="xl" x="457.7" y="343.4">37</text>
<text class="xl" x="468.3" y="343.4">38</text>
<text class="xl" x="478.9" y="343.4">39</text>
<text class="xl" x="489.5" y="343.4">Oct</text>
<text class="xl" x="489.5" y="349.3">40</text>
<text class="xl" x="500.1" y="343.4">41</text>
<text class="xl" x="510.7" y="343.4">42</text>
<text class="xl" x="521.3" y="343.4">43</text>
<text class="xl" x="531.9" y="343.4">Nov</text>
<text class="xl" x="531.9" y="349.3">44</text>
<text class="xl" x="542.5" y="343.4">45</text>
<text class="xl" x="553.1" y="343.4">46</text>
<text class="xl" x="563.7" y="343.4">47</text>
<text class="xl" x="574.3" y="343.4">48</text>
<text class="xl" x="584.9" y="343.4">Dic</text>
<text class="xl" x="584.9" y="349.3">49</text>
<text class="xl" x="595.5" y="343.4">50</text>
<text class="xl" x="606.1" y="343.4">51</text>
<text class="xl" x="616.7" y="343.4">52</text>
<text class="ax" style="font-size:7.6px" x="73.3" y="369" textLength="85.8" lengthAdjust="spacingAndGlyphs" xml:space="preserve">mes/sem  epidemiologica</text>
<text class="ax" style="font-size:8.8px" transform="translate(32.6,277.5) rotate(-90)" textLength="103" lengthAdjust="spacingAndGlyphs">Nº de virus identificados</text>
<rect x="267" y="359.5" width="332" height="16.2" fill="#000"/>
<rect x="266" y="358.3" width="332" height="16.5" fill="#fff" stroke="#000" stroke-width="1"/>
<rect x="273.4" y="364.8" width="4.2" height="4.2" rx="0.3" fill="#e02010" stroke="#000" stroke-width="0.9"/>
<text class="lg" x="279.2" y="370.5" textLength="40.5" lengthAdjust="spacingAndGlyphs">Influenza A</text>
<rect x="327" y="364.8" width="4.2" height="4.2" rx="0.3" fill="#0e8c5c" stroke="#000" stroke-width="0.9"/>
<text class="lg" x="332.6" y="370.5" textLength="40.8" lengthAdjust="spacingAndGlyphs">Influenza B</text>
<rect x="380.4" y="364.8" width="4.2" height="4.2" rx="0.3" fill="#20b8e8" stroke="#000" stroke-width="0.9"/>
<text class="lg" x="386.6" y="370.5" textLength="49.4" lengthAdjust="spacingAndGlyphs">Parainfluenza</text>
<rect x="443" y="364.8" width="4.2" height="4.2" rx="0.3" fill="#000" stroke="#000" stroke-width="0.9"/>
<text class="lg" x="449.2" y="370.5" textLength="40.5" lengthAdjust="spacingAndGlyphs">Adenovirus</text>
<rect x="497" y="364.8" width="4.2" height="4.2" rx="0.3" fill="#f0c000" stroke="#000" stroke-width="0.9"/>
<text class="lg" x="503.4" y="370.5" textLength="16.6" lengthAdjust="spacingAndGlyphs">VRS</text>
<rect x="527.5" y="364.8" width="4.2" height="4.2" rx="0.3" fill="#fff" stroke="#000" stroke-width="0.9"/>
<text class="lg" x="533.2" y="370.5" textLength="59.7" lengthAdjust="spacingAndGlyphs">Metaneumovirus</text>
</svg></body></html>
